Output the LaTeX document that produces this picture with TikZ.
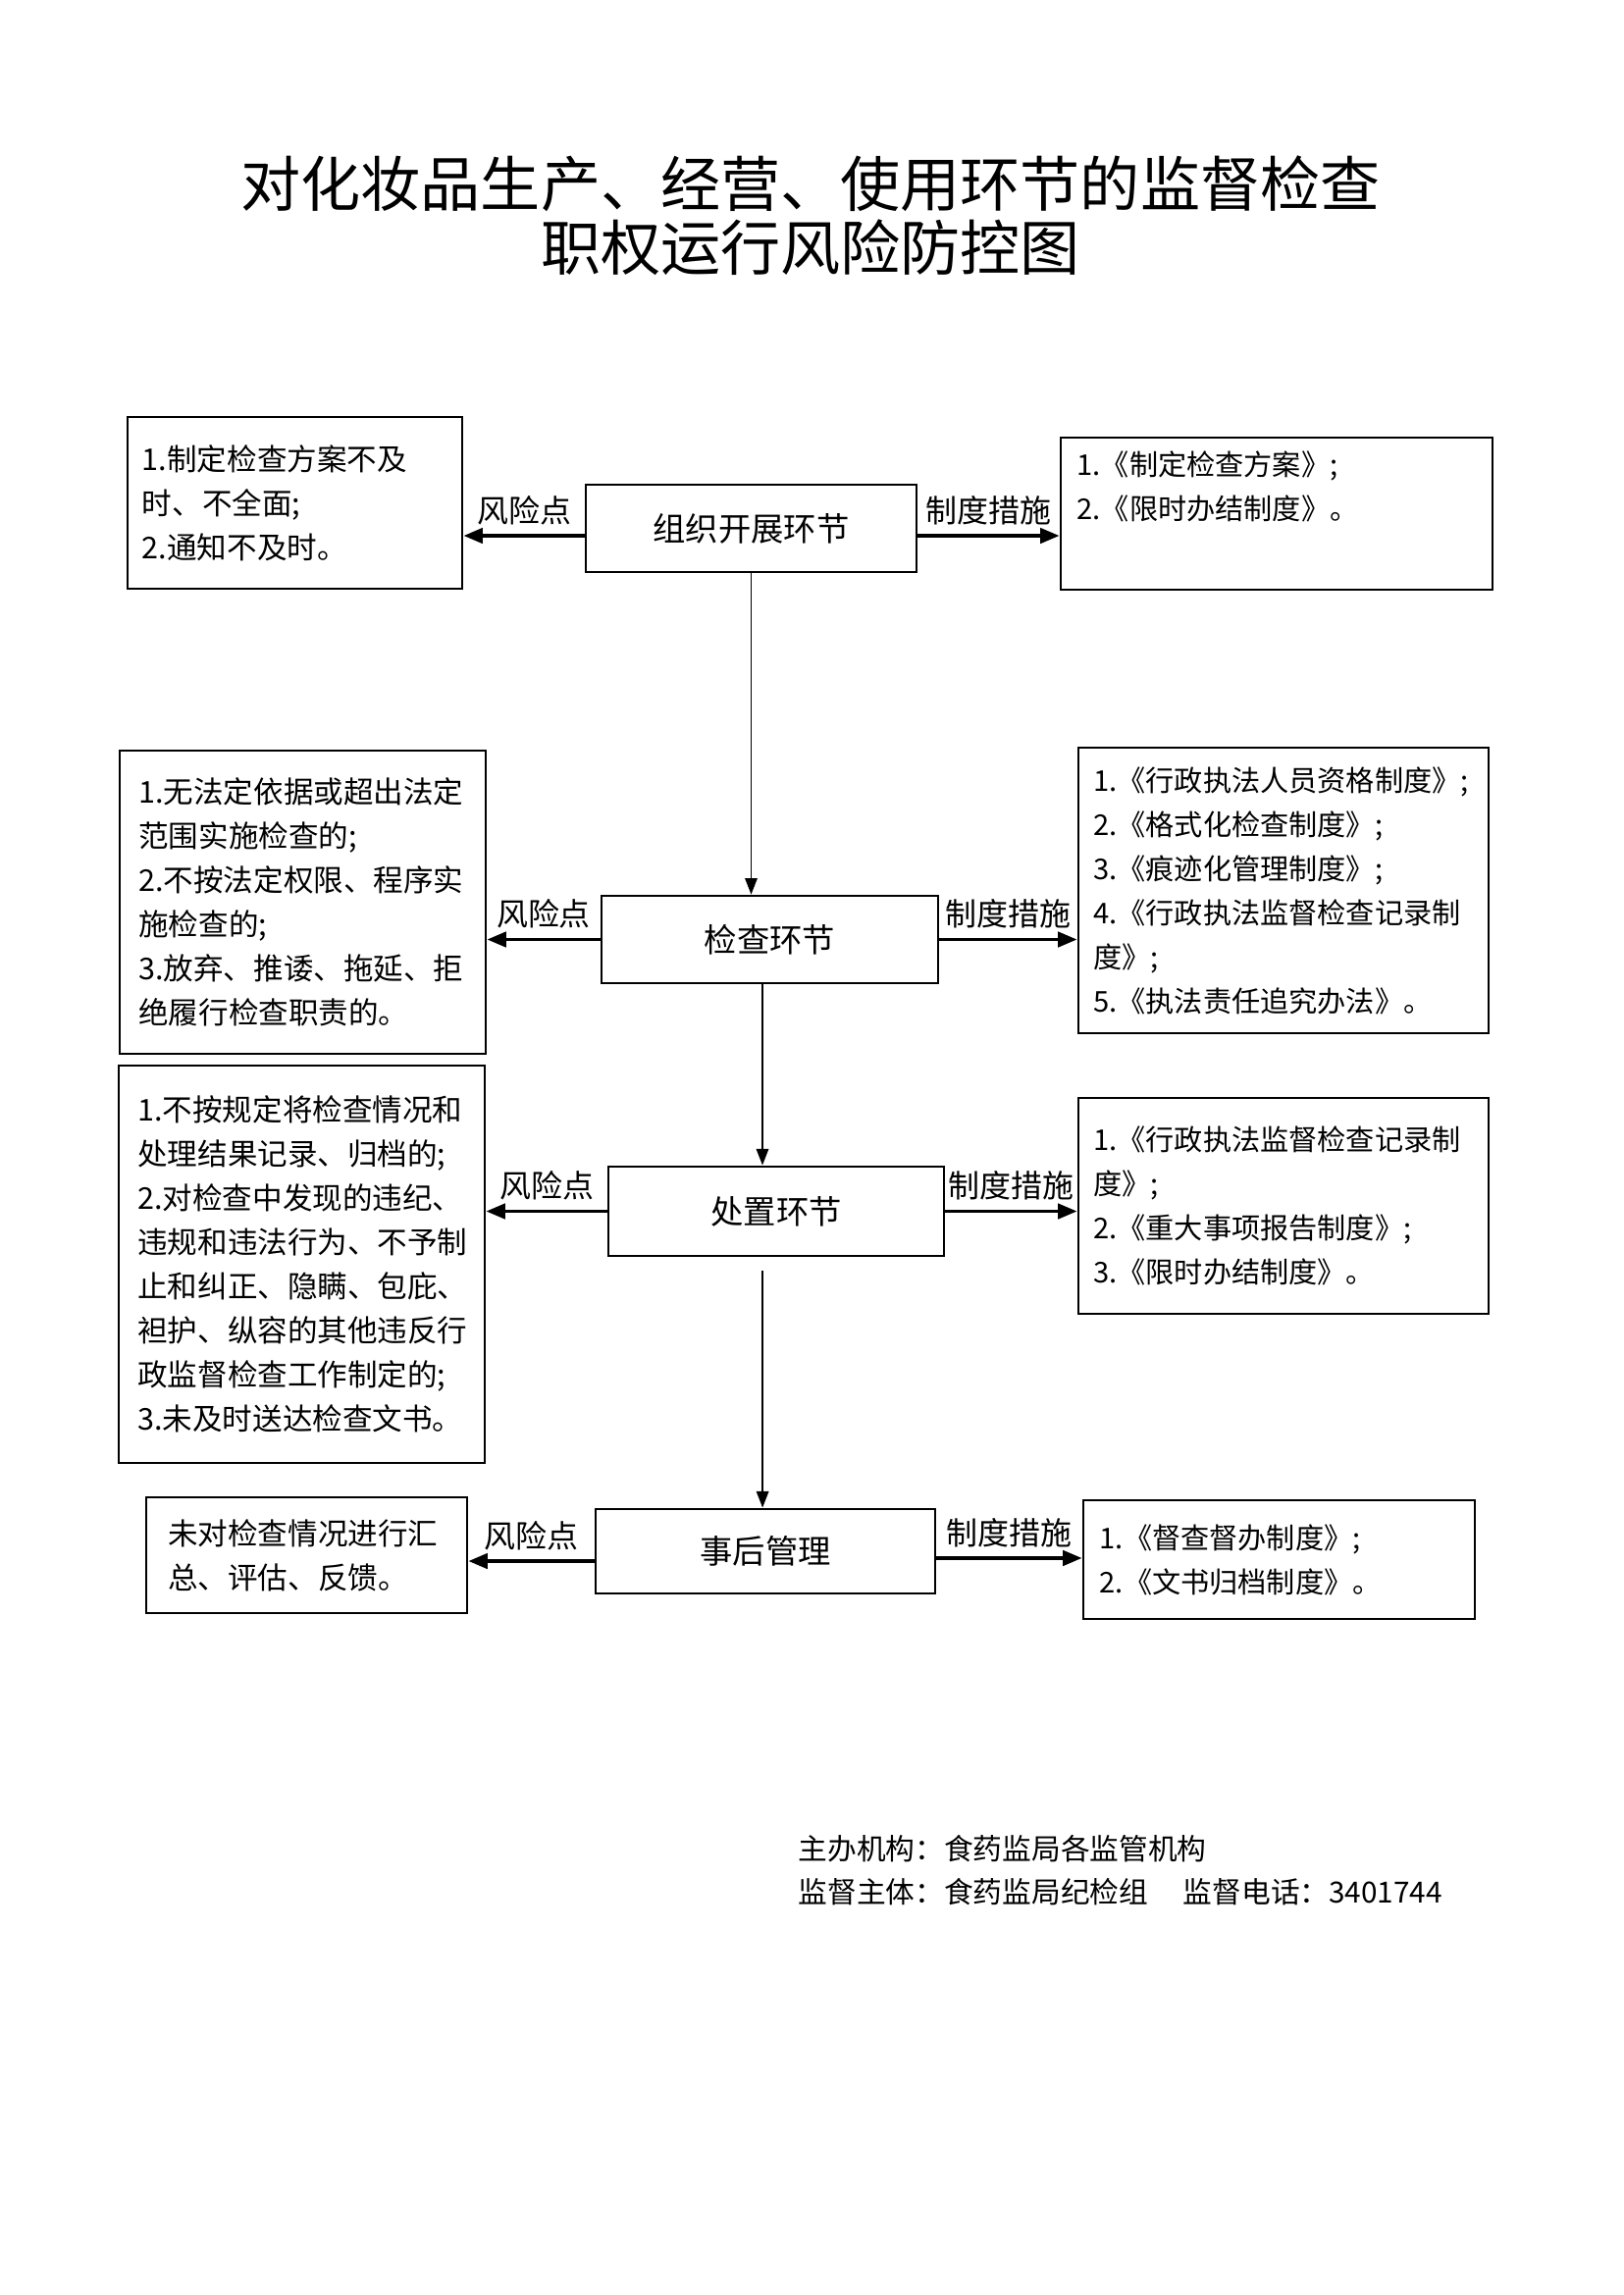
\documentclass[tikz,border=0pt]{standalone}
\usepackage{fontspec}
\setmainfont{Noto Sans CJK SC}
\usetikzlibrary{arrows.meta}
\begin{document}
\begin{tikzpicture}[x=0.36pt,y=-0.36pt,
  box/.style={draw, line width=1pt, align=left, inner ysep=0pt,
    font=\fontsize{11}{16.2}\selectfont},
  rbox/.style={box, font=\fontsize{10.5}{16.2}\selectfont},
  cbox/.style={draw, line width=1pt, align=center, inner sep=0pt,
    font=\fontsize{12}{14}\selectfont},
  harrow/.style={line width=1.3pt, -{Triangle[length=7pt,width=5.5pt]}},
  varrow/.style={line width=0.6pt, -{Triangle[length=6pt,width=4.5pt]}},
  lab/.style={font=\fontsize{11.5}{14}\selectfont, inner xsep=1pt}
]
\useasboundingbox (0,0) rectangle (1654,2339);

% title
\node (title) at (826,220) [align=center, font=\fontsize{22}{23.4}\selectfont]
  {对化妆品生产、经营、使用环节的监督检查\\职权运行风险防控图};

% row 1
\node (c1) at (765.5,538.5) [cbox, minimum width=121.3pt, minimum height=32pt] {组织开展环节};
\node (l1) at (300.5,512.5) [box, inner xsep=5.4pt, text width=112pt, minimum height=63pt]
  {1.制定检查方案不及\\时、不全面;\\2.通知不及时。};
\node (r1) at (1301,523.5) [rbox, inner xsep=6pt, text width=146.4pt, minimum height=55.8pt]
  {1.《制定检查方案》;\\2.《限时办结制度》。\\\strut};

% row 2
\node (c2) at (784.5,957.5) [cbox, minimum width=123.5pt, minimum height=32pt] {检查环节};
\node (l2) at (308.5,919.5) [box, inner xsep=7pt, text width=120.3pt, minimum height=111.2pt]
  {1.无法定依据或超出法定\\范围实施检查的;\\2.不按法定权限、程序实\\施检查的;\\3.放弃、推诿、拖延、拒\\绝履行检查职责的。};
\node (r2) at (1308,907.5) [rbox, inner xsep=5.5pt, text width=139.5pt, minimum height=104.8pt]
  {1.《行政执法人员资格制度》;\\2.《格式化检查制度》;\\3.《痕迹化管理制度》;\\4.《行政执法监督检查记录制\\度》;\\5.《执法责任追究办法》。};

% row 3
\node (c3) at (791,1234.5) [cbox, minimum width=123.1pt, minimum height=32.8pt] {处置环节};
\node (l3) at (307.5,1288.5) [box, inner xsep=7pt, text width=120.3pt, minimum height=145.8pt]
  {1.不按规定将检查情况和\\处理结果记录、归档的;\\2.对检查中发现的违纪、\\违规和违法行为、不予制\\止和纠正、隐瞒、包庇、\\袒护、纵容的其他违反行\\政监督检查工作制定的;\\3.未及时送达检查文书。};
\node (r3) at (1308,1229) [rbox, inner xsep=5.5pt, text width=139.5pt, minimum height=79.2pt]
  {1.《行政执法监督检查记录制\\度》;\\2.《重大事项报告制度》;\\3.《限时办结制度》。};

% row 4
\node (c4) at (780,1581) [cbox, minimum width=124.6pt, minimum height=31pt] {事后管理};
\node (l4) at (312.5,1585) [box, inner xsep=8pt, text width=101.7pt, minimum height=42.5pt]
  {未对检查情况进行汇\\总、评估、反馈。};
\node (r4) at (1303.5,1589.5) [rbox, inner xsep=6pt, text width=131.6pt, minimum height=43.6pt]
  {1.《督查督办制度》;\\2.《文书归档制度》。};

% horizontal arrows
\draw[harrow] ([yshift=-2.7pt]c1.west) -- ([yshift=-2.7pt]c1.west -| l1.east)
  node[midway, above, lab] {风险点};
\draw[harrow] ([yshift=-2.7pt]c1.east) -- ([yshift=-2.7pt]c1.east -| r1.west)
  node[midway, above, lab] {制度措施};
\draw[harrow] (c2.west) -- (c2.west -| l2.east) node[midway, above, lab] {风险点};
\draw[harrow] (c2.east) -- (c2.east -| r2.west) node[midway, above, lab] {制度措施};
\draw[harrow] (c3.west) -- (c3.west -| l3.east) node[midway, above, lab] {风险点};
\draw[harrow] (c3.east) -- (c3.east -| r3.west) node[midway, above, lab] {制度措施};
\draw[harrow] ([yshift=-3.6pt]c4.west) -- ([yshift=-3.6pt]c4.west -| l4.east)
  node[midway, above, lab] {风险点};
\draw[harrow] ([yshift=-2.5pt]c4.east) -- ([yshift=-2.5pt]c4.east -| r4.west)
  node[midway, above, lab] {制度措施};

% vertical arrows
\draw[varrow] (c1.south) -- (c1.south |- c2.north);
\draw[varrow] ([xshift=-2.7pt]c2.south) -- ([xshift=-2.7pt]c2.south |- c3.north);
\draw[varrow] ([xshift=-5pt,yshift=-5pt]c3.south) -- ([xshift=-5pt]c3.south |- c4.north);

% footer
\node (f1) at (813,1884) [anchor=west, inner sep=0pt, font=\fontsize{10.7}{13}\selectfont]
  {主办机构：食药监局各监管机构};
\node (f2) at (813,1928) [anchor=west, inner sep=0pt, font=\fontsize{10.7}{13}\selectfont]
  {监督主体：食药监局纪检组\hspace{1.2em}监督电话：3401744};
\end{tikzpicture}
\end{document}
